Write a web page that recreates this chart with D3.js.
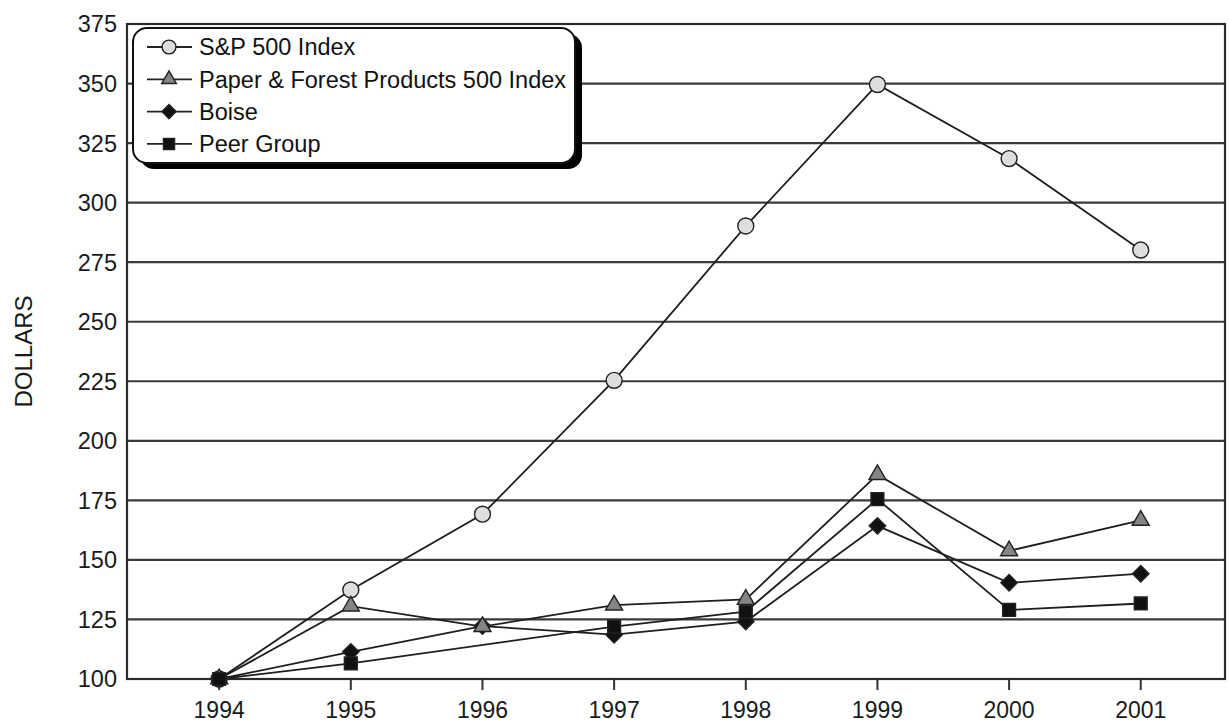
<!DOCTYPE html>
<html>
<head>
<meta charset="utf-8">
<script src="https://cdn.jsdelivr.net/npm/d3@7"></script>
<style>
  html, body { margin: 0; padding: 0; background: #fff; }
  svg { display: block; }
</style>
</head>
<body>
<div id="chart"></div>
<script>
// values (dollars, 1994 = 100)
let years = [1994, 1995, 1996, 1997, 1998, 1999, 2000, 2001]
let sp500 = [100, 137.4, 169.2, 225.4, 290.2, 349.6, 318.5, 280.1]
let paper = [100, 130.6, 122.0, 131.0, 133.4, 185.8, 153.8, 166.6]
let boise = [100, 111.4, 122.2, 118.6, 124.1, 164.3, 140.4, 144.2]
let peer  = [100, 106.6, null, 122.0, 128.3, 175.5, 129.0, 131.7]
let seriesNames = ["S&P 500 Index", "Paper & Forest Products 500 Index", "Boise", "Peer Group"]
let yTicks = [100, 125, 150, 175, 200, 225, 250, 275, 300, 325, 350, 375]

let width = 1229
let height = 726

// plot area
let pLeft = 127, pRight = 1225, pTop = 24, pBottom = 679

let font = "'Liberation Sans', Arial, sans-serif"
let text_size = 23.5

let x = d3.scaleLinear().domain([1993.3, 2001.64]).range([pLeft, pRight])
let y = d3.scaleLinear().domain([100, 375]).range([pBottom, pTop])

let svg = d3.select("#chart").append("svg")
  .attr("width", width)
  .attr("height", height)
  .attr("viewBox", [0, 0, width, height])

// gridlines
svg.append("g")
  .selectAll("line")
  .data(yTicks.slice(1, -1))
  .join("line")
  .attr("x1", pLeft).attr("x2", pRight)
  .attr("y1", d => y(d)).attr("y2", d => y(d))
  .attr("stroke", "#3a3a3a").attr("stroke-width", 2.2)

// frame
svg.append("rect")
  .attr("x", pLeft).attr("y", pTop)
  .attr("width", pRight - pLeft).attr("height", pBottom - pTop)
  .attr("fill", "none").attr("stroke", "#2a2a2a").attr("stroke-width", 2.2)

// x ticks + labels
let xg = svg.append("g")
xg.selectAll("line")
  .data(years)
  .join("line")
  .attr("x1", d => x(d)).attr("x2", d => x(d))
  .attr("y1", pBottom).attr("y2", pBottom + 11)
  .attr("stroke", "#333").attr("stroke-width", 2)
xg.selectAll("text")
  .data(years)
  .join("text")
  .attr("x", d => x(d))
  .attr("y", 718)
  .attr("text-anchor", "middle")
  .attr("font-family", font).attr("font-size", 23).attr("fill", "#1a1a1a")
  .text(d => d)

// y labels
svg.append("g")
  .selectAll("text")
  .data(yTicks)
  .join("text")
  .attr("x", 117)
  .attr("y", d => y(d))
  .attr("dy", "0.36em")
  .attr("text-anchor", "end")
  .attr("font-family", font).attr("font-size", text_size).attr("fill", "#1a1a1a")
  .text(d => d)

svg.append("text")
  .attr("transform", `translate(32, ${(pTop + pBottom) / 2}) rotate(-90)`)
  .attr("text-anchor", "middle")
  .attr("font-family", font).attr("font-size", 24).attr("fill", "#1a1a1a")
  .text("DOLLARS")

// series
let markers = [
  {type: d3.symbolCircle, size: 200, fill: "#dedede", rotate: 0},
  {type: d3.symbolTriangle, size: 125, fill: "#858585", rotate: 0},
  {type: d3.symbolSquare, size: 135, fill: "#111", rotate: 45},
  {type: d3.symbolSquare, size: 165, fill: "#111", rotate: 0}
]
let allSeries = [sp500, paper, boise, peer]
let markerOrder = [0, 2, 1, 3]

let line = d3.line().x(d => x(d.year)).y(d => y(d.value))

allSeries.forEach((values, i) => {
  let pts = years.map((yr, j) => ({year: yr, value: values[j]})).filter(d => d.value != null)
  svg.append("path")
    .datum(pts)
    .attr("d", line)
    .attr("fill", "none")
    .attr("stroke", "#1e1e1e").attr("stroke-width", 1.8)
})

markerOrder.forEach(i => {
  let m = markers[i]
  let values = allSeries[i]
  let pts = years.map((yr, j) => ({year: yr, value: values[j]})).filter(d => d.value != null)
  svg.append("g")
    .selectAll("path")
    .data(pts)
    .join("path")
    .attr("d", d3.symbol().type(m.type).size(m.size))
    .attr("transform", d => `translate(${x(d.year)},${y(d.value)}) rotate(${m.rotate})`)
    .attr("fill", m.fill)
    .attr("stroke", "#222").attr("stroke-width", 1.4)
})

// legend
let lg = svg.append("g")
let lx = 133, ly = 28, lw = 442, lh = 135
lg.append("rect")
  .attr("x", lx + 7).attr("y", ly + 6)
  .attr("width", lw).attr("height", lh)
  .attr("rx", 14).attr("fill", "#000")
lg.append("rect")
  .attr("x", lx).attr("y", ly)
  .attr("width", lw).attr("height", lh)
  .attr("rx", 14).attr("fill", "#fff")
  .attr("stroke", "#111").attr("stroke-width", 2)

seriesNames.forEach((name, i) => {
  let m = markers[i]
  let cy = 47 + i * 32.3
  lg.append("line")
    .attr("x1", 147).attr("x2", 192)
    .attr("y1", cy).attr("y2", cy)
    .attr("stroke", "#222").attr("stroke-width", 1.8)
  lg.append("path")
    .attr("d", d3.symbol().type(m.type).size(m.size * 0.75))
    .attr("transform", `translate(169,${cy}) rotate(${m.rotate})`)
    .attr("fill", m.fill)
    .attr("stroke", "#222").attr("stroke-width", 1.4)
  lg.append("text")
    .attr("x", 199).attr("y", cy)
    .attr("dy", "0.36em")
    .attr("font-family", font).attr("font-size", text_size).attr("fill", "#111")
    .text(name)
})
</script>
</body>
</html>
